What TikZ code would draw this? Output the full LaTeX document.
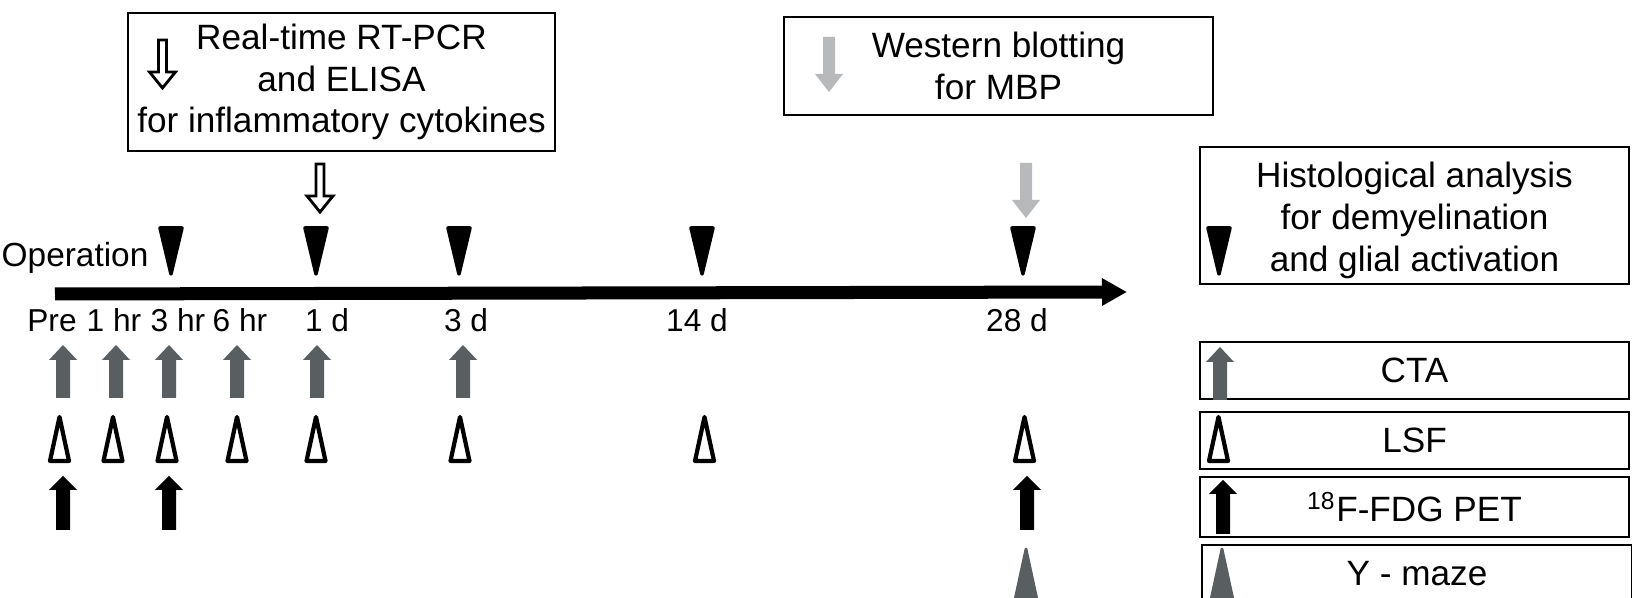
\documentclass[tikz,border=0pt]{standalone}
\usepackage{fontspec}
\setmainfont{Liberation Sans}
\usepackage{xcolor}
\usetikzlibrary{arrows.meta}

\definecolor{ctagray}{RGB}{89,94,96}
\definecolor{wbgray}{RGB}{183,185,187}
\newcommand{\boxfont}{\fontsize{10}{11.9}\selectfont}
\newcommand{\tickfont}{\fontsize{9}{10}\selectfont}

\tikzset{
  box/.style={draw, line width=0.6pt, inner sep=0pt, align=center, font=\boxfont},
  tick/.style={inner sep=0pt, anchor=base, font=\tickfont},
  ctaarrow/.pic={\fill[ctagray] (0,0) -- (14,15) -- (7,15) -- (7,53) -- (-7,53) -- (-7,15) -- (-14,15) -- cycle;},
  petarrow/.pic={\fill[black] (0,0) -- (14,14) -- (7,14) -- (7,54) -- (-7,54) -- (-7,14) -- (-14,14) -- cycle;},
  wbarrow/.pic={\fill[wbgray] (0,55) -- (14,37) -- (6,37) -- (6,0) -- (-6,0) -- (-6,37) -- (-14,37) -- cycle;},
  pcrarrow/.pic={\draw[line width=0.8pt, fill=white] (0,49) -- (13,33) -- (4,33) -- (4,1) -- (-4,1) -- (-4,33) -- (-13,33) -- cycle;},
  histomark/.pic={\filldraw[line width=1pt, line join=round] (-11,2) -- (11,2) -- (0,48) -- cycle;},
  lsfmark/.pic={\draw[line width=1.2pt, line join=round] (0,2) -- (9.5,46) -- (-9.5,46) -- cycle;},
  mazemark/.pic={\filldraw[ctagray, line width=0.8pt, line join=round] (0,2) -- (13,62) -- (-13,62) -- cycle;}
}

\begin{document}
\begin{tikzpicture}[x=0.01cm, y=-0.01cm]
    \useasboundingbox (0,0) rectangle (1632,598);
    \fill[white] (0,0) rectangle (1632,598);
    \clip (0,0) rectangle (1632,598);

    % boxes on top
    \node[box, minimum width=4.27cm, minimum height=1.38cm] (rtpcr) at (341.5,82) {Real-time RT-PCR\\and ELISA\\for inflammatory cytokines};
    \pic at (162.5,39) {pcrarrow};
    \node[box, minimum width=4.29cm, minimum height=0.98cm] (wb) at (998.5,66) {Western blotting\\for MBP};
    \pic at (829,37) {wbarrow};

    % legend
    \node[box, minimum width=4.29cm, minimum height=1.37cm] (histo) at (1414.5,215.5) {\rule{0pt}{10pt}Histological analysis\\for demyelination\\and glial activation};
    \pic at (1219,226) {histomark};
    \node[box, minimum width=4.29cm, minimum height=0.57cm] (cta) at (1414.5,370.5) {CTA};
    \pic at (1220,347) {ctaarrow};
    \node[box, minimum width=4.29cm, minimum height=0.57cm] (lsf) at (1414.5,440.5) {LSF};
    \pic at (1218.5,415) {lsfmark};
    \node[box, minimum width=4.29cm, minimum height=0.60cm] (pet) at (1414.5,507) {\textsuperscript{18}F-FDG PET};
    \pic at (1223,480) {petarrow};
    \node[box, minimum width=4.30cm, minimum height=0.58cm] (maze) at (1417,574) {Y - maze};
    \pic at (1222,547) {mazemark};

    % time line
    \node[font=\fontsize{9.5}{11}\selectfont, inner sep=0pt, anchor=base west] (op) at (1,267) {Operation};
    \coordinate (t0) at (55,294);
    \coordinate (t1) at (1127,292);
    \draw[line width=1.3mm, -{Triangle[length=2.5mm, width=2.6mm]}] (t0) -- (t1);

    \node[tick] (pre) at (52,332) {Pre};
    \node[tick] (h1) at (114,332) {1 hr};
    \node[tick] (h3) at (178,332) {3 hr};
    \node[tick] (h6) at (240,332) {6 hr};
    \node[tick] (d1) at (327,332) {1 d};
    \node[tick] (d3) at (466,332) {3 d};
    \node[tick] (d14) at (697,332) {14 d};
    \node[tick] (d28) at (1017,332) {28 d};

    % markers
    \pic at (320,163) {pcrarrow};
    \pic at (1026,163) {wbarrow};
    \foreach \x in {171,316,459,702,1023}
        \pic at (\x,226) {histomark};
    \foreach \x in {63,116,169,237,317,463}
        \pic at (\x,345) {ctaarrow};
    \foreach \x in {59.5,113,167,237,316,460,704.5,1024.5}
        \pic at (\x,415) {lsfmark};
    \foreach \x in {63,169,1027}
        \pic at (\x,476) {petarrow};
    \pic at (1026,547) {mazemark};
\end{tikzpicture}
\end{document}
